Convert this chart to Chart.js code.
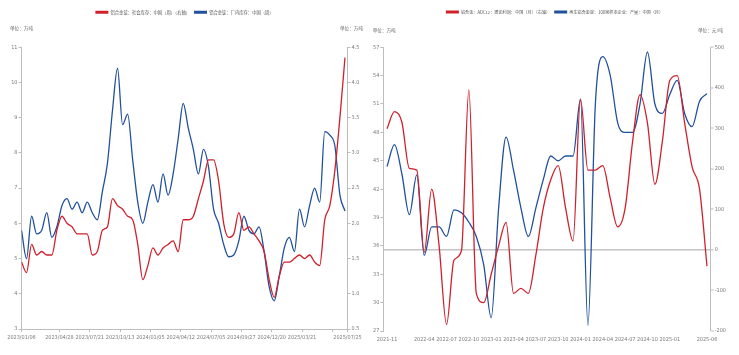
<!DOCTYPE html>
<html><head><meta charset="utf-8">
<script src="https://cdn.jsdelivr.net/npm/chart.js@4.4.1/dist/chart.umd.min.js"></script>
<style>
html,body{margin:0;padding:0;background:#fff;}
#wrap{position:relative;width:739px;height:355px;overflow:hidden;}
canvas{position:absolute;top:0;}
#cv1{left:0;}
#cv2{left:370px;}
</style></head><body>
<div id="wrap">
<canvas id="cv1" width="369" height="355"></canvas>
<canvas id="cv2" width="369" height="355"></canvas>
</div>
<script>
// ---------- Left chart: weekly inventories (one value every 2 weeks, index = week number) ----------
const weekStep = 2;
const weekTickIdx = [0, 15, 27, 39, 51, 63, 75, 87, 99, 111, 123, 129];
const weekTickLabels = ['2023/01/06','2023/04/28','2023/07/21','2023/10/13','2024/01/05','2024/04/12','2024/07/05','2024/09/27','2024/12/20','2025/03/21','','2025/07/25'];
// 铝合金锭：社会库存（右轴，万吨）
const socialStock = [1.45,1.3,1.7,1.55,1.6,1.55,1.55,1.9,2.1,2.0,
  1.95,1.85,1.85,1.85,1.55,1.6,1.9,1.95,2.35,2.25,
  2.2,2.1,2.05,1.7,1.2,1.4,1.65,1.55,1.65,1.7,
  1.75,1.6,2.05,2.05,2.1,2.35,2.6,2.9,2.9,2.6,
  2.0,1.8,1.85,2.15,1.9,1.95,1.85,1.75,1.6,1.2,
  0.95,1.25,1.45,1.45,1.5,1.55,1.5,1.55,1.45,1.4,
  2.05,2.25,2.75,3.5,4.35];
// 铝合金锭：厂内库存（左轴，万吨）
const factoryStock = [5.8,5.0,6.2,5.7,5.8,6.3,5.6,5.9,6.5,6.7,
  6.4,6.6,6.3,6.6,6.3,6.1,6.9,7.7,9.2,10.4,
  8.8,9.1,7.8,6.6,6.0,6.6,7.1,6.6,7.4,6.8,
  7.4,8.4,9.4,8.7,8.1,7.4,8.1,7.6,6.4,6.0,
  5.4,5.05,5.1,5.5,6.2,5.8,5.7,5.9,5.2,4.2,
  3.8,4.5,5.3,5.6,5.2,6.4,5.9,6.5,7.0,6.6,
  8.6,8.5,8.2,6.8,6.35];

// ---------- Right chart: monthly ----------
const months = ['2021-11','2021-12','2022-01','2022-02','2022-03','2022-04','2022-05','2022-06','2022-07','2022-08','2022-09','2022-10',
  '2022-11','2022-12','2023-01','2023-02','2023-03','2023-04','2023-05','2023-06','2023-07','2023-08','2023-09','2023-10',
  '2023-11','2023-12','2024-01','2024-02','2024-03','2024-04','2024-05','2024-06','2024-07','2024-08','2024-09','2024-10',
  '2024-11','2024-12','2025-01','2025-02','2025-03','2025-04','2025-05','2025-06'];
const shownMonths = ['2021-11','2022-04','2022-07','2022-10','2023-01','2023-04','2023-07','2023-10','2024-01','2024-04','2024-07','2024-10','2025-01','2025-06'];
// 铝合金：ADC12：理论利润（右轴，元/吨）
const adc12Profit = [299,341,315,201,197,-6,150,10,-184,-25,-2,395,
  -107,-130,-60,10,68,-107,-95,-107,-13,103,173,208,
  103,22,372,197,197,208,127,57,103,267,383,313,
  162,267,418,430,313,205,150,-40];
// 再生铝合金锭：100家样本企业：产量（左轴，万吨）
const recycledOutput = [44.4,46.7,43.6,39.3,43.5,35.0,38.0,38.0,37.0,39.8,39.5,38.5,
  37.0,34.0,28.4,40.0,47.5,44.0,40.0,37.0,40.0,43.0,45.5,45.0,
  45.5,45.5,51.5,27.6,51.0,56.0,54.0,49.0,48.0,48.0,51.0,56.5,
  51.0,50.0,52.0,53.5,50.0,48.6,51.3,52.1];

const RED = '#d0202c', BLUE = '#21509c';
const AXIS = '#bdbdbd', TXT = '#7a7a7a';
const NUMFONT = "'Liberation Sans Narrow','Arial Narrow','DejaVu Sans Condensed',sans-serif";
const CJK = "'Noto Sans CJK SC','Noto Sans',sans-serif";

const unitPlugin = {
  id: 'units',
  afterDraw(chart, args, opts) {
    const {ctx, chartArea} = chart;
    ctx.save();
    ctx.font = `${opts.size}px ${CJK}`;
    ctx.fillStyle = '#666';
    ctx.textBaseline = 'middle';
    ctx.textAlign = 'left';
    ctx.fillText(opts.left, chartArea.left + opts.leftDx, chartArea.top + opts.dy);
    ctx.fillText(opts.right, chartArea.right + opts.rightDx, chartArea.top + opts.dy);
    ctx.restore();
  }
};

function legendOpts(size) {
  return {
    display: true,
    position: 'top',
    labels: {
      font: {size: size, family: CJK},
      color: '#555',
      boxWidth: 13, boxHeight: 3, padding: 4,
      generateLabels(chart) {
        return Chart.defaults.plugins.legend.labels.generateLabels(chart).map(l => ({...l, lineWidth: 0}));
      }
    }
  };
}
function yAxis(pos, min, max, step, width) {
  return {
    type: 'linear', position: pos, min, max,
    afterFit: s => { s.width = width; },
    ticks: {stepSize: step, color: TXT, font: {size: 5.5, family: NUMFONT}, padding: 1},
    grid: {drawOnChartArea: false, color: AXIS, tickColor: AXIS, tickLength: 3},
    border: {display: true, color: AXIS}
  };
}

// ---------- Left chart ----------
const leftY = yAxis('left', 3, 11, 1, 21.5);
const leftY1 = yAxis('right', 0.5, 4.5, 0.5, 21.5);
new Chart(document.getElementById('cv1'), {
  type: 'line',
  data: {
    datasets: [
      {label: '铝合金锭：社会库存：中国（周）（右轴）', data: socialStock.map((v, k) => ({x: k * weekStep, y: v})),
        yAxisID: 'y1', borderColor: RED, backgroundColor: RED, borderWidth: 1.3, pointRadius: 0, cubicInterpolationMode: 'monotone'},
      {label: '铝合金锭：厂内库存：中国（周）', data: factoryStock.map((v, k) => ({x: k * weekStep, y: v})),
        yAxisID: 'y', borderColor: BLUE, backgroundColor: BLUE, borderWidth: 1.3, pointRadius: 0, cubicInterpolationMode: 'monotone'}
    ]
  },
  options: {
    responsive: false, animation: false, devicePixelRatio: 1,
    layout: {padding: {top: 6, left: 0, right: 0, bottom: 0}},
    plugins: {
      legend: legendOpts(4.3),
      title: {display: true, text: '', font: {size: 10, lineHeight: 1}, padding: {top: 12.8, bottom: 0}, weight: 500},
      tooltip: {enabled: false},
      units: {left: '单位：万吨', right: '单位：万吨', size: 4.6, leftDx: -11.5, rightDx: -7.5, dy: -19}
    },
    scales: {
      x: {
        type: 'linear', min: 0, max: 129,
        afterFit: s => { s.height = 26; },
        afterBuildTicks: s => { s.ticks = weekTickIdx.map(v => ({value: v})); },
        ticks: {autoSkip: false, maxRotation: 0, color: TXT, font: {size: 5.5, family: NUMFONT}, padding: 2,
          callback: v => { const i = weekTickIdx.indexOf(v); return i >= 0 ? weekTickLabels[i] : ''; }},
        grid: {drawOnChartArea: false, color: AXIS, tickColor: AXIS, tickLength: 3},
        border: {display: true, color: AXIS}
      },
      y: leftY, y1: leftY1
    }
  },
  plugins: [unitPlugin]
});

// ---------- Right chart ----------
const rY = yAxis('left', 27, 57, 3, 13.3);
const rY1 = yAxis('right', -200, 500, 100, 28.3);
rY1.grid = {drawOnChartArea: true, color: c => (c.tick && c.tick.value === 0) ? '#c4c4c4' : 'rgba(0,0,0,0)',
  lineWidth: c => (c.tick && c.tick.value === 0) ? 1.6 : 0, tickColor: AXIS, tickLength: 3, tickWidth: 1};
new Chart(document.getElementById('cv2'), {
  type: 'line',
  data: {
    labels: months,
    datasets: [
      {label: '铝合金：ADC12：理论利润：中国（月）（右轴）', data: adc12Profit, yAxisID: 'y1',
        borderColor: RED, backgroundColor: RED, borderWidth: 1.3, pointRadius: 0, cubicInterpolationMode: 'monotone'},
      {label: '再生铝合金锭：100家样本企业：产量：中国（月）', data: recycledOutput, yAxisID: 'y',
        borderColor: BLUE, backgroundColor: BLUE, borderWidth: 1.3, pointRadius: 0, cubicInterpolationMode: 'monotone'}
    ]
  },
  options: {
    responsive: false, animation: false, devicePixelRatio: 1,
    layout: {padding: {top: 6, left: 0, right: 0, bottom: 0}},
    plugins: {
      legend: legendOpts(4.15),
      title: {display: true, text: '', font: {size: 10, lineHeight: 1}, padding: {top: 13.1, bottom: 0}, weight: 500},
      tooltip: {enabled: false},
      units: {left: '单位：万吨', right: '单位：元/吨', size: 4.6, leftDx: -10.6, rightDx: -12.7, dy: -17}
    },
    scales: {
      x: {
        type: 'category', offset: true,
        afterFit: s => { s.height = 24; },
        ticks: {autoSkip: false, maxRotation: 0, color: TXT, font: {size: 5.5, family: NUMFONT}, padding: 5,
          callback: function (v) { const l = this.getLabelForValue(v); return shownMonths.includes(l) ? l : null; }},
        grid: {display: false, drawTicks: false},
        border: {display: false}
      },
      y: rY, y1: rY1
    }
  },
  plugins: [unitPlugin]
});
</script>
</body></html>
